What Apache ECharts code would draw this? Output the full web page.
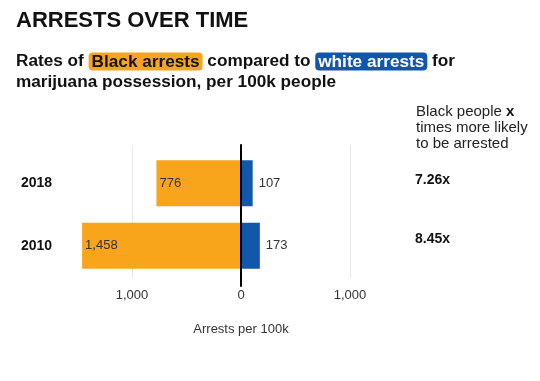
<!DOCTYPE html>
<html>
<head>
<meta charset="utf-8">
<script src="https://cdn.jsdelivr.net/npm/echarts@6/dist/echarts.min.js"></script>
<style>
html,body{margin:0;padding:0;background:#fff;}
#chart{width:540px;height:381px;}
</style>
</head>
<body>
<div id="chart"></div>
<script>
const years = ['2018', '2010'];
const blackRates = [776, 1458];
const whiteRates = [107, 173];
const ratios = ['7.26x', '8.45x'];
const axisMin = -2000, axisMax = 2000, axisStep = 1000;

const FONT = 'Liberation Sans, Arial, sans-serif';
const ORANGE = '#F8A51C';
const BLUE = '#1257AB';
const fmt = v => Math.abs(v).toLocaleString('en-US');

const chart = echarts.init(document.getElementById('chart'), null, {renderer: 'canvas'});

const gridLeft = 23, gridRight = 81;
const xBase = {type: 'value', min: axisMin, max: axisMax, interval: axisStep};

chart.setOption({
  animation: false,
  backgroundColor: '#fff',
  textStyle: {fontFamily: FONT},
  title: [
    {
      text: 'ARRESTS OVER TIME', left: 16, top: 10, padding: 0,
      textStyle: {fontSize: 22, fontWeight: 'bold', color: '#111', fontFamily: FONT}
    },
    {
      text: 'Rates of {o|Black arrests} compared to {w|white arrests} for\nmarijuana possession, per 100k people',
      left: 16, top: 51, padding: 0,
      textStyle: {
        fontSize: 17.2, fontWeight: 'bold', color: '#111', fontFamily: FONT, lineHeight: 21,
        rich: {
          o: {fontSize: 17.2, fontWeight: 'bold', color: '#111', fontFamily: FONT, backgroundColor: ORANGE, borderRadius: 4, padding: [1, 3, 0, 3], lineHeight: 20},
          w: {fontSize: 17.2, fontWeight: 'bold', color: '#fff', fontFamily: FONT, backgroundColor: BLUE, borderRadius: 4, padding: [1, 3, 0, 3], lineHeight: 20}
        }
      }
    },
    {
      text: 'Black people {b|x}\ntimes more likely\nto be arrested',
      left: 416, top: 104, padding: 0,
      textStyle: {
        fontSize: 15, fontWeight: 'normal', color: '#222', fontFamily: FONT, lineHeight: 16,
        rich: {b: {fontSize: 15, fontWeight: 'bold', color: '#111', fontFamily: FONT, lineHeight: 16}}
      }
    }
  ],
  grid: [
    {left: gridLeft, right: gridRight, top: 152, bottom: 381 - 277, containLabel: false},
    {left: gridLeft, right: gridRight, top: 145, bottom: 381 - 278, containLabel: false},
    {left: gridLeft, right: gridRight, top: 145, bottom: 381 - 286, containLabel: false},
    {left: gridLeft, right: gridRight, top: 151, bottom: 381 - 269, containLabel: false}
  ],
  xAxis: [
    Object.assign({}, xBase, {gridIndex: 0, axisLine: {show: false}, axisTick: {show: false}, axisLabel: {show: false}, splitLine: {show: false}}),
    Object.assign({}, xBase, {gridIndex: 1, axisLine: {show: false}, axisTick: {show: false}, axisLabel: {show: false},
      splitLine: {show: true, showMinLine: false, showMaxLine: false, lineStyle: {color: '#e6e6e6', width: 1}}}),
    Object.assign({}, xBase, {gridIndex: 2, axisLine: {show: false}, axisTick: {show: false},
      splitLine: {show: false},
      axisLabel: {show: true, showMinLabel: false, showMaxLabel: false, formatter: fmt, fontSize: 13, color: '#333', fontFamily: FONT, margin: 3},
      name: 'Arrests per 100k', nameLocation: 'middle', nameGap: 37,
      nameTextStyle: {fontSize: 13, color: '#333', fontFamily: FONT}}),
    Object.assign({}, xBase, {gridIndex: 3, show: false})
  ],
  yAxis: [
    {type: 'category', gridIndex: 0, data: years, inverse: true, position: 'left',
      axisLine: {show: false, onZero: false}, axisTick: {show: false}, splitLine: {show: false},
      axisLabel: {inside: true, margin: -2, fontSize: 14, fontWeight: 'bold', color: '#111', fontFamily: FONT}},
    {type: 'value', gridIndex: 1, show: false},
    {type: 'value', gridIndex: 2, z: 10, axisLine: {show: true, onZero: true, lineStyle: {color: '#000', width: 2}},
      axisTick: {show: false}, axisLabel: {show: false}, splitLine: {show: false}},
    {type: 'category', gridIndex: 3, data: ratios, inverse: true, position: 'right', offset: -44,
      axisLine: {show: false, onZero: false}, axisTick: {show: false}, splitLine: {show: false},
      axisLabel: {margin: 0, fontSize: 14, fontWeight: 'bold', color: '#111', fontFamily: FONT, align: 'left'}}
  ],
  series: [
    {
      name: 'Black', type: 'bar', xAxisIndex: 0, yAxisIndex: 0,
      data: blackRates.map(v => -v), barWidth: 46, barGap: '-100%',
      itemStyle: {color: ORANGE},
      label: {show: true, position: 'insideLeft', distance: 3, formatter: p => fmt(p.value), fontSize: 13, color: '#333', fontFamily: FONT}
    },
    {
      name: 'white', type: 'bar', xAxisIndex: 0, yAxisIndex: 0,
      data: whiteRates, barWidth: 46, barGap: '-100%',
      itemStyle: {color: BLUE},
      label: {show: true, position: 'right', distance: 6, formatter: p => fmt(p.value), fontSize: 13, color: '#333', fontFamily: FONT}
    }
  ]
});
</script>
</body>
</html>
